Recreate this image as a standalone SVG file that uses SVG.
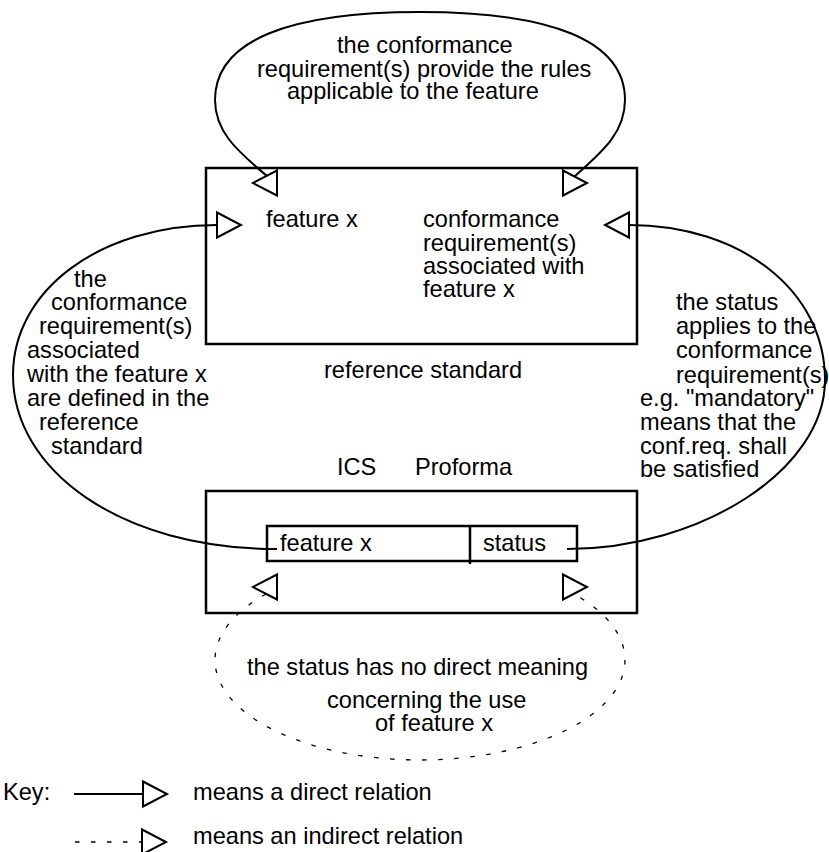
<svg xmlns="http://www.w3.org/2000/svg" width="829" height="852" viewBox="0 0 829 852">
  <style>
    text { font-family: "Liberation Sans", Arial, sans-serif; font-size: 23.6px; fill: #000; }
    .box { fill: none; stroke: #000; stroke-width: 2.5; }
    .line { fill: none; stroke: #000; stroke-width: 2; }
    .dash { fill: none; stroke: #000; stroke-width: 1.3; stroke-dasharray: 4.5 11.5; }
    .head { fill: #fff; stroke: #000; stroke-width: 2; stroke-linejoin: miter; }
  </style>
  <defs>
    <!-- open triangular arrowhead, pointing right, tip at origin -->
    <polygon id="tri" class="head" points="-24,-12.5 0,0 -24,12.5"/>
  </defs>

  <rect width="829" height="852" fill="#fff"/>

  <!-- reference standard -->
  <g id="reference-standard">
    <rect class="box" x="206" y="168" width="431" height="176"/>
    <text x="266" y="227">feature x</text>
    <text x="423" y="227">conformance</text>
    <text x="423" y="251">requirement(s)</text>
    <text x="423" y="274">associated with</text>
    <text x="423" y="297">feature x</text>
    <text x="324" y="378">reference standard</text>
  </g>

  <!-- ICS proforma -->
  <g id="ics-proforma">
    <text x="337" y="475">ICS</text>
    <text x="415" y="475">Proforma</text>
    <rect class="box" x="206" y="491" width="431" height="122"/>
    <rect class="box" x="267" y="526" width="310" height="35"/>
    <line class="box" x1="470" y1="526" x2="470" y2="564"/>
    <text x="280" y="551">feature x</text>
    <text x="483" y="551">status</text>
  </g>

  <!-- relations between the two tables -->
  <g id="connectors">
    <!-- top loop: rules for the feature -->
    <path class="line" d="M268,177 C243,155 215,135 215,100 C215,40 290,12 420,12 C550,12 625,40 625,100 C625,135 598,155 574,177"/>
    <use href="#tri" transform="translate(253,183) rotate(180)"/>
    <use href="#tri" transform="translate(587,183)"/>

    <!-- left loop: feature x to its conformance requirements -->
    <path class="line" d="M217,225 C100,225 13,290 13,375 C13,470 120,549 277,549"/>
    <use href="#tri" transform="translate(241,225)"/>

    <!-- right loop: status to conformance requirements -->
    <path class="line" d="M629,225 C740,225 825,290 825,380 C825,470 700,549 567,549"/>
    <use href="#tri" transform="translate(605,225) rotate(180)"/>

    <!-- bottom loop: indirect relation -->
    <path class="dash" d="M266,594 A205,100 0 1 0 574,594"/>
    <use href="#tri" transform="translate(253,587) rotate(180)"/>
    <use href="#tri" transform="translate(587,587)"/>
  </g>

  <g id="relation-labels">
    <text x="337" y="53">the conformance</text>
    <text x="257" y="77">requirement(s) provide the rules</text>
    <text x="287" y="99">applicable to the feature</text>

    <text x="74" y="287">the</text>
    <text x="51" y="310">conformance</text>
    <text x="39" y="334">requirement(s)</text>
    <text x="27" y="358">associated</text>
    <text x="27" y="382">with the feature x</text>
    <text x="27" y="406">are defined in the</text>
    <text x="39" y="430">reference</text>
    <text x="51" y="454">standard</text>

    <text x="676" y="310">the status</text>
    <text x="676" y="334">applies to the</text>
    <text x="676" y="358">conformance</text>
    <text x="676" y="383">requirement(s)</text>
    <text x="640" y="406">e.g. "mandatory"</text>
    <text x="640" y="430">means that the</text>
    <text x="640" y="454">conf.req. shall</text>
    <text x="640" y="477">be satisfied</text>

    <text x="247" y="675">the status has no direct meaning</text>
    <text x="327" y="708">concerning the use</text>
    <text x="375" y="731">of feature x</text>
  </g>

  <!-- legend -->
  <g id="key">
    <text x="3" y="800">Key:</text>
    <line class="line" x1="74" y1="794" x2="143" y2="794"/>
    <use href="#tri" transform="translate(167,794)"/>
    <text x="193" y="800">means a direct relation</text>
    <line class="dash" x1="75" y1="842" x2="143" y2="842" stroke-dasharray="6 10"/>
    <use href="#tri" transform="translate(166,842)"/>
    <text x="193" y="844">means an indirect relation</text>
  </g>
</svg>
